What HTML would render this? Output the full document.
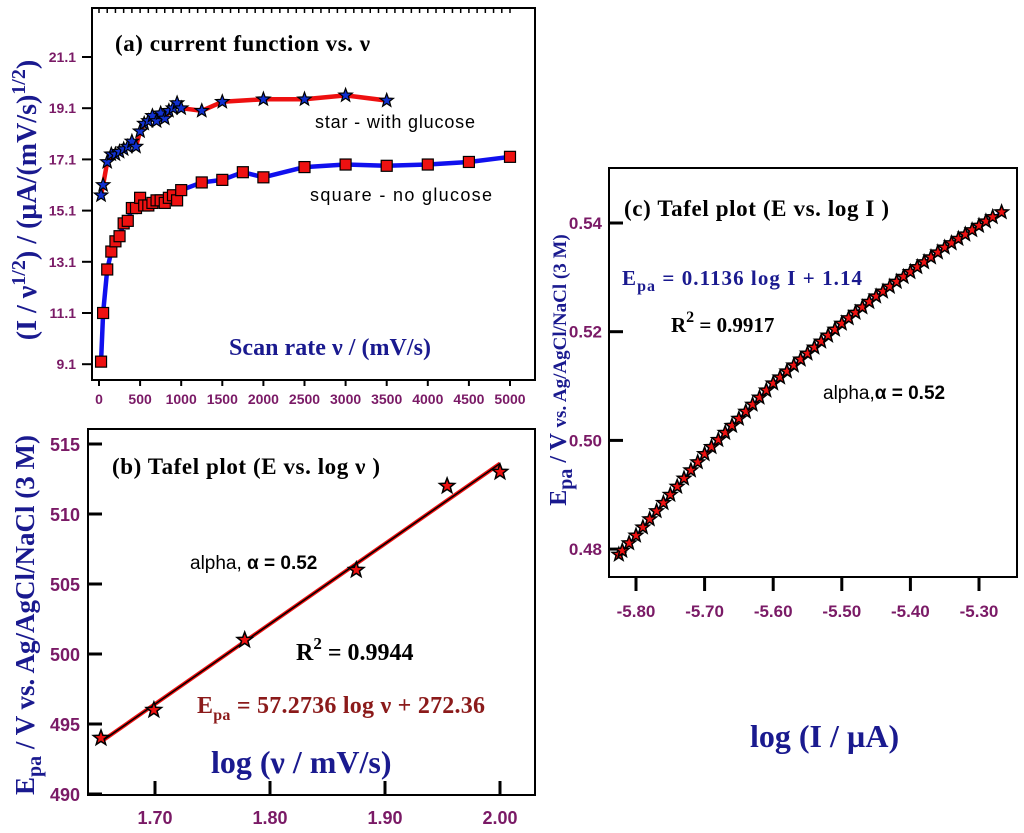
<!DOCTYPE html>
<html><head><meta charset="utf-8">
<style>
html,body{margin:0;padding:0;background:#fff;}
svg{display:block;}
.tl{font-family:"Liberation Sans",sans-serif;font-weight:bold;fill:#7a1a66;}
.sr{font-family:"Liberation Serif",serif;font-weight:bold;}
</style></head>
<body>
<svg id="fig" width="1024" height="833" viewBox="0 0 1024 833" xmlns="http://www.w3.org/2000/svg">
<g id="pa"></g>
<g id="pb"></g>
<g id="pc"></g>

<!-- Panel a texts -->
<text class="sr" x="115" y="51" font-size="23" textLength="255" fill="#000">(a) current function vs. ν</text>
<text x="315" y="128" font-family="Liberation Sans,sans-serif" font-size="18" textLength="160" fill="#000">star - with glucose</text>
<text x="310" y="201" font-family="Liberation Sans,sans-serif" font-size="18" textLength="182" fill="#000">square - no glucose</text>
<text class="sr" x="229" y="355" font-size="24" textLength="202" fill="#1a1a8f">Scan rate ν / (mV/s)</text>
<text class="sr" transform="translate(36,200) rotate(-90)" text-anchor="middle" font-size="28" fill="#1a1a8f">(I / ν<tspan dy="-11" font-size="20">1/2</tspan><tspan dy="11">) / (µA/(mV/s)</tspan><tspan dy="-11" font-size="20">1/2</tspan><tspan dy="11">)</tspan></text>

<!-- Panel b texts -->
<text class="sr" x="112" y="474" font-size="23" textLength="268" fill="#000">(b) Tafel plot (E vs. log ν )</text>
<text x="190" y="569" font-family="Liberation Sans,sans-serif" font-size="19" fill="#000">alpha, <tspan font-weight="bold">α = 0.52</tspan></text>
<text class="sr" x="296" y="660" font-size="24" fill="#000">R<tspan dy="-11" font-size="17">2</tspan><tspan dy="11"> = 0.9944</tspan></text>
<text class="sr" x="197" y="713" font-size="24" textLength="288" fill="#8b1a1a">E<tspan dy="7" font-size="16">pa</tspan><tspan dy="-7"> =  57.2736 log ν + 272.36</tspan></text>
<text class="sr" x="211" y="773" font-size="32" fill="#1a1a8f">log (ν / mV/s)</text>
<text class="sr" transform="translate(34,615) rotate(-90)" text-anchor="middle" font-size="27" fill="#1a1a8f">E<tspan dy="7" font-size="20">pa</tspan><tspan dy="-7"> / V vs. Ag/AgCl/NaCl (3 M)</tspan></text>

<!-- Panel c texts -->
<text class="sr" x="624" y="216" font-size="23" textLength="265" fill="#000">(c) Tafel plot (E vs. log I )</text>
<text class="sr" x="622" y="285" font-size="21" textLength="240" fill="#1a1a8f">E<tspan dy="6" font-size="16">pa</tspan><tspan dy="-6"> =  0.1136 log I + 1.14</tspan></text>
<text class="sr" x="671" y="332" font-size="21" fill="#000">R<tspan dy="-10" font-size="16">2</tspan><tspan dy="10"> = 0.9917</tspan></text>
<text x="823" y="399" font-family="Liberation Sans,sans-serif" font-size="19" fill="#000">alpha,<tspan font-weight="bold">α = 0.52</tspan></text>
<text class="sr" x="750" y="747" font-size="32" fill="#1a1a8f">log (I / µA)</text>
<text class="sr" transform="translate(566,370) rotate(-90)" text-anchor="middle" font-size="24" fill="#1a1a8f">E<tspan dy="6" font-size="20">pa</tspan><tspan dy="-6"> / V </tspan><tspan font-size="19">vs. Ag/AgCl/NaCl (3 M)</tspan></text>
</svg>
<script>
// ---- Panel a data ----
const aStarX = [25,50,100,150,200,250,300,350,400,450,500,550,600,650,700,750,800,850,900,950,1000,1250,1500,2000,2500,3000,3500];
const aStarY = [15.7,16.1,17.0,17.3,17.3,17.4,17.5,17.6,17.8,17.6,18.2,18.5,18.6,18.8,18.6,18.9,18.7,19.0,19.1,19.3,19.1,19.0,19.35,19.45,19.45,19.6,19.4];
const aSqX = [25,50,100,150,200,250,300,350,400,450,500,550,600,650,700,750,800,850,900,950,1000,1250,1500,1750,2000,2500,3000,3500,4000,4500,5000];
const aSqY = [9.2,11.1,12.8,13.5,13.9,14.1,14.6,14.7,15.2,15.2,15.6,15.3,15.3,15.4,15.5,15.5,15.4,15.6,15.7,15.5,15.9,16.2,16.3,16.6,16.4,16.8,16.9,16.85,16.9,17.0,17.2];
const aXTicks = [0,500,1000,1500,2000,2500,3000,3500,4000,4500,5000];
const aYTicks = [9.1,11.1,13.1,15.1,17.1,19.1,21.1];
// ---- Panel b data ----
const bX = [1.653,1.699,1.778,1.875,1.954,2.000];
const bY = [494,496,501,506,512,513];
const bXTicks = [1.70,1.80,1.90,2.00];
const bYTicks = [490,495,500,505,510,515];
// ---- Panel c data ----
const cX = [-5.825,-5.82,-5.81,-5.80,-5.79,-5.78,-5.77,-5.76,-5.75,-5.74,-5.73,-5.72,-5.71,-5.70,-5.69,-5.68,-5.67,-5.66,-5.65,-5.64,-5.63,-5.62,-5.61,-5.60,-5.59,-5.58,-5.57,-5.56,-5.55,-5.54,-5.53,-5.52,-5.51,-5.50,-5.49,-5.48,-5.47,-5.46,-5.45,-5.44,-5.43,-5.42,-5.41,-5.40,-5.39,-5.38,-5.37,-5.36,-5.35,-5.34,-5.33,-5.32,-5.31,-5.30,-5.29,-5.28,-5.267];
const cY = [0.479,0.4797,0.4811,0.4825,0.4840,0.4855,0.4870,0.4885,0.4900,0.4915,0.4930,0.4945,0.4960,0.4975,0.4988,0.5001,0.5014,0.5027,0.5040,0.5053,0.5066,0.5079,0.5092,0.5105,0.5116,0.5127,0.5138,0.5149,0.5160,0.5171,0.5182,0.5193,0.5204,0.5215,0.5225,0.5235,0.5245,0.5255,0.5265,0.5274,0.5283,0.5292,0.5301,0.5310,0.5319,0.5328,0.5337,0.5346,0.5355,0.5363,0.5371,0.5379,0.5387,0.5395,0.5403,0.5411,0.5420];
const cXTicks = [-5.80,-5.70,-5.60,-5.50,-5.40,-5.30];
const cYTicks = [0.48,0.50,0.52,0.54];

const NS = "http://www.w3.org/2000/svg";
function mk(parent, tag, attrs){const e=document.createElementNS(NS,tag);for(const k in attrs)e.setAttribute(k,attrs[k]);parent.appendChild(e);return e;}
function starPts(cx,cy,r){let p=[];for(let i=0;i<10;i++){const rr=i%2?r*0.42:r;const a=-Math.PI/2+i*Math.PI/5;p.push((cx+rr*Math.cos(a)).toFixed(1)+","+(cy+rr*Math.sin(a)).toFixed(1));}return p.join(" ");}

const ax = v => 99 + (v/5000)*411;
const ay = v => 57 + (21.1 - v)*25.6;
const bx = v => 155 + (v-1.70)*1150;
const by = v => 444 + (515 - v)*14;
const cx = v => 636 + (v+5.80)*686;
const cy = v => 223 + (0.54 - v)*5435;

// ---- Panel a ----
const pa = document.getElementById('pa');
let r = mk(pa,'rect',{x:92,y:8,width:443,height:372,fill:'none',stroke:'#000','stroke-width':2});


for(let v=0; v<=5000; v+=100){
  const t = mk(pa,'line',{x1:ax(v),x2:ax(v),y1:8,y2:13,stroke:'#000','stroke-width':1.5});
  
  
}
aXTicks.forEach(v=>{
  const t=mk(pa,'line',{x1:ax(v),x2:ax(v),y1:380,y2:386,stroke:'#000','stroke-width':2});
  
  
  const l=mk(pa,'text',{x:ax(v),y:404,'text-anchor':'middle','font-size':14,class:'tl'});
  l.textContent=v;
  
  
});
aYTicks.forEach(v=>{
  const t=mk(pa,'line',{x1:82,x2:92,y1:ay(v),y2:ay(v),stroke:'#000','stroke-width':2});
  
  
  const l=mk(pa,'text',{x:76,y:ay(v)+5,'text-anchor':'end','font-size':14,class:'tl'});
  l.textContent=v.toFixed(1);
  
  
});
let sqLine = mk(pa,'polyline',{points:aSqX.map((x,i)=>ax(x)+','+ay(aSqY[i])).join(' '),fill:'none',stroke:'#1010ee','stroke-width':4.5,'stroke-linejoin':'round'});


let stLine = mk(pa,'polyline',{points:aStarX.map((x,i)=>ax(x)+','+ay(aStarY[i])).join(' '),fill:'none',stroke:'#ee1010','stroke-width':4.5,'stroke-linejoin':'round'});


aSqX.forEach((x,i)=>{
  const s=mk(pa,'rect',{x:ax(x)-5.5,y:ay(aSqY[i])-5.5,width:11,height:11,fill:'#ee1111',stroke:'#000','stroke-width':1.2});
  
  
});
aStarX.forEach((x,i)=>{
  const s=mk(pa,'polygon',{points:starPts(ax(x),ay(aStarY[i]),7),fill:'#1030d0',stroke:'#000','stroke-width':1.2});
  
  
});

// ---- Panel b ----
const pb = document.getElementById('pb');
r = mk(pb,'rect',{x:88,y:429,width:447,height:366,fill:'none',stroke:'#000','stroke-width':2});


bXTicks.forEach(v=>{
  const t=mk(pb,'line',{x1:bx(v),x2:bx(v),y1:781,y2:795,stroke:'#000','stroke-width':3});
  
  
  const l=mk(pb,'text',{x:bx(v),y:824,'text-anchor':'middle','font-size':18,class:'tl'});
  l.textContent=v.toFixed(2);
  
  
});
bYTicks.forEach(v=>{
  const t=mk(pb,'line',{x1:88,x2:102,y1:by(v),y2:by(v),stroke:'#000','stroke-width':3});
  
  
  const l=mk(pb,'text',{x:80,y:by(v)+7,'text-anchor':'end','font-size':18,class:'tl'});
  l.textContent=v;
  
  
});
(function(){
  const n=bX.length; let sx=0,sy=0,sxx=0,sxy=0;
  for(let i=0;i<n;i++){sx+=bX[i];sy+=bY[i];sxx+=bX[i]*bX[i];sxy+=bX[i]*bY[i];}
  const m=(n*sxy-sx*sy)/(n*sxx-sx*sx), c=(sy-m*sx)/n;
  const x0=bX[0], x1=bX[n-1];
  const fl=mk(pb,'line',{x1:bx(x0),y1:by(m*x0+c),x2:bx(x1),y2:by(m*x1+c),stroke:'#ee1111','stroke-width':4});
  
  
  const fl2=mk(pb,'line',{x1:bx(x0),y1:by(m*x0+c),x2:bx(x1),y2:by(m*x1+c),stroke:'#000','stroke-width':1.5});
  
  
})();
bX.forEach((x,i)=>{
  const s=mk(pb,'polygon',{points:starPts(bx(x),by(bY[i]),8),fill:'#ee1111',stroke:'#000','stroke-width':1.5});
  
  
});

// ---- Panel c ----
const pc = document.getElementById('pc');
r = mk(pc,'rect',{x:609,y:168,width:408,height:409,fill:'none',stroke:'#000','stroke-width':2});


cXTicks.forEach(v=>{
  const t=mk(pc,'line',{x1:cx(v),x2:cx(v),y1:577,y2:591,stroke:'#000','stroke-width':3});
  
  
  const l=mk(pc,'text',{x:cx(v),y:617,'text-anchor':'middle','font-size':17,class:'tl'});
  l.textContent=v.toFixed(2);
  
  
});
cYTicks.forEach(v=>{
  const t=mk(pc,'line',{x1:609,x2:623,y1:cy(v),y2:cy(v),stroke:'#000','stroke-width':3});
  
  
  const l=mk(pc,'text',{x:602,y:cy(v)+6,'text-anchor':'end','font-size':17,class:'tl'});
  l.textContent=v.toFixed(2);
  
  
});
let cl = mk(pc,'polyline',{points:cX.map((x,i)=>cx(x)+','+cy(cY[i])).join(' '),fill:'none',stroke:'#1010ee','stroke-width':2});


cX.forEach((x,i)=>{
  const s=mk(pc,'polygon',{points:starPts(cx(x),cy(cY[i]),7),fill:'#ee1111',stroke:'#000','stroke-width':1.5});
  
  
});
</script>
</body></html>
